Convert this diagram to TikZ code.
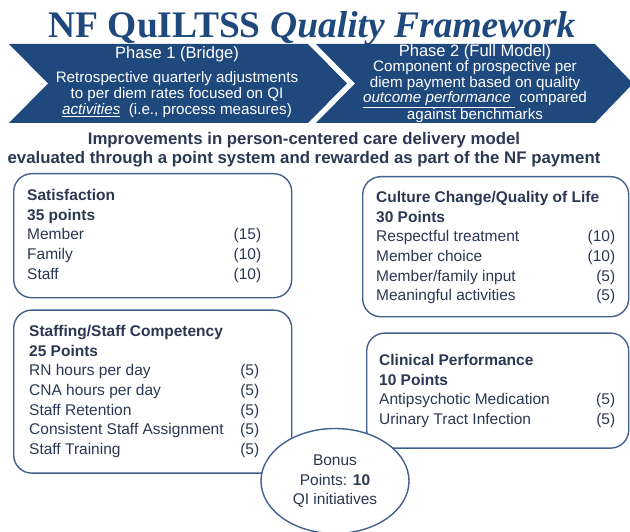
\documentclass[tikz,border=0pt]{standalone}
\usepackage{fontspec}
\setmainfont{Liberation Sans}
\newfontfamily\titlefont{Liberation Serif}
\usetikzlibrary{positioning,shapes.geometric}

\definecolor{navy}{HTML}{1F497D}
\definecolor{edge}{HTML}{40618F}
\definecolor{ink}{HTML}{2B3853}

\newcommand{\boxfont}{\fontsize{15.5}{19.7}\selectfont}
\newcommand{\chevfont}{\fontsize{15.2}{15.6}\selectfont}
\newcommand{\cathead}[1]{\multicolumn{2}{@{}l@{}}{\textbf{#1}}}

\tikzset{
  chevron/.style={fill=navy},
  chevhead/.style={text=white, font=\fontsize{16.5}{18}\selectfont, inner sep=0pt, anchor=base},
  chevbody/.style={text=white, font=\chevfont, inner sep=0pt, anchor=base},
  lead/.style={text=ink, font=\fontsize{16.8}{19}\selectfont\bfseries, inner sep=0pt, anchor=base},
  catbox/.style={draw=edge, line width=1.4pt, rounded corners=18pt, fill=white, inner sep=0pt},
  cattext/.style={text=ink, font=\boxfont, inner sep=0pt, anchor=base west},
  bonus/.style={draw=edge, line width=1.4pt, fill=white, ellipse, inner sep=0pt},
}

\begin{document}
\begin{tikzpicture}[x=1pt, y=-1pt]
  \useasboundingbox (0,0) rectangle (630,532);

  % title
  \node[text=navy, font=\titlefont\fontsize{37.5}{40}\selectfont\bfseries, inner sep=0pt, text depth=0pt, anchor=base] (title) at (312,38)
    {NF QuILTSS \textit{Quality Framework}};

  % phases
  \fill[chevron] (9,44) -- (308,44) -- (347,83.5) -- (308,123) -- (9,123) -- (48,83.5) -- cycle;
  \fill[chevron] (316,44) -- (595,44) -- (633,83.5) -- (595,123) -- (316,123) -- (355,83.5) -- cycle;

  \node[chevhead] (ph1) at (177,59) {Phase 1 (Bridge)};
  \node[chevbody] (ph1txt) at (177,83) {\begin{tabular}[t]{@{}c@{}}
    Retrospective  quarterly adjustments\\
    to per diem rates focused on QI\\
    \underline{\textit{activities}}\ \ (i.e., process  measures)
  \end{tabular}};

  \node[chevhead] (ph2) at (475,57) {Phase 2 (Full Model)};
  \node[chevbody] (ph2txt) at (475,71.5) {\begin{tabular}[t]{@{}c@{}}
    Component of prospective per\\
    diem payment based on quality\\
    \underline{\textit{outcome  performance}\ } compared\\
    against benchmarks
  \end{tabular}};

  % lead text
  \node[lead] (lead1) at (304,145) {Improvements in person-centered care delivery model};
  \node[lead] (lead2) at (304,163.5) {evaluated through a point system and rewarded as part of the NF payment};

  % categories
  \node[catbox, minimum width=278pt, minimum height=124pt, anchor=north west] (sat) at (13,173) {};
  \node[catbox, minimum width=278pt, minimum height=163pt, below=11pt of sat] (staff) {};
  \node[catbox, minimum width=266pt, minimum height=140pt, anchor=north west] (cult) at (362,176) {};
  \node[catbox, minimum width=262pt, minimum height=115pt, below=15pt of cult.south east, anchor=north east] (clin) {};

  \node[cattext] (sattxt) at (27,200.5) {\begin{tabular*}{234pt}[t]{@{}l@{\extracolsep{\fill}}r@{}}
    \cathead{Satisfaction}\\
    \cathead{35 points}\\
    Member & (15)\\
    Family & (10)\\
    Staff & (10)
  \end{tabular*}};

  \node[cattext] (culttxt) at (376,202.5) {\begin{tabular*}{239pt}[t]{@{}l@{\extracolsep{\fill}}r@{}}
    \cathead{Culture Change/Quality of Life}\\
    \cathead{30 Points}\\
    Respectful treatment & (10)\\
    Member  choice & (10)\\
    Member/family  input & (5)\\
    Meaningful  activities & (5)
  \end{tabular*}};

  \node[cattext] (stafftxt) at (29,336.5) {\begin{tabular*}{230pt}[t]{@{}l@{\extracolsep{\fill}}r@{}}
    \cathead{Staffing/Staff Competency}\\
    \cathead{25 Points}\\
    RN  hours per day & (5)\\
    CNA  hours per day & (5)\\
    Staff Retention & (5)\\
    Consistent  Staff Assignment & (5)\\
    Staff Training & (5)
  \end{tabular*}};

  \node[cattext] (clintxt) at (379,365.5) {\begin{tabular*}{236pt}[t]{@{}l@{\extracolsep{\fill}}r@{}}
    \cathead{Clinical Performance}\\
    \cathead{10 Points}\\
    Antipsychotic Medication & (5)\\
    Urinary  Tract Infection & (5)
  \end{tabular*}};

  % bonus
  \node[bonus, minimum width=148pt, minimum height=105pt] (bonus) at (335,481) {};
  \node[cattext, anchor=base] (bonustxt) at (335,465.5) {\begin{tabular}[t]{@{}c@{}}
    Bonus\\
    Points:  \textbf{10}\\
    QI  initiatives
  \end{tabular}};
\end{tikzpicture}
\end{document}
